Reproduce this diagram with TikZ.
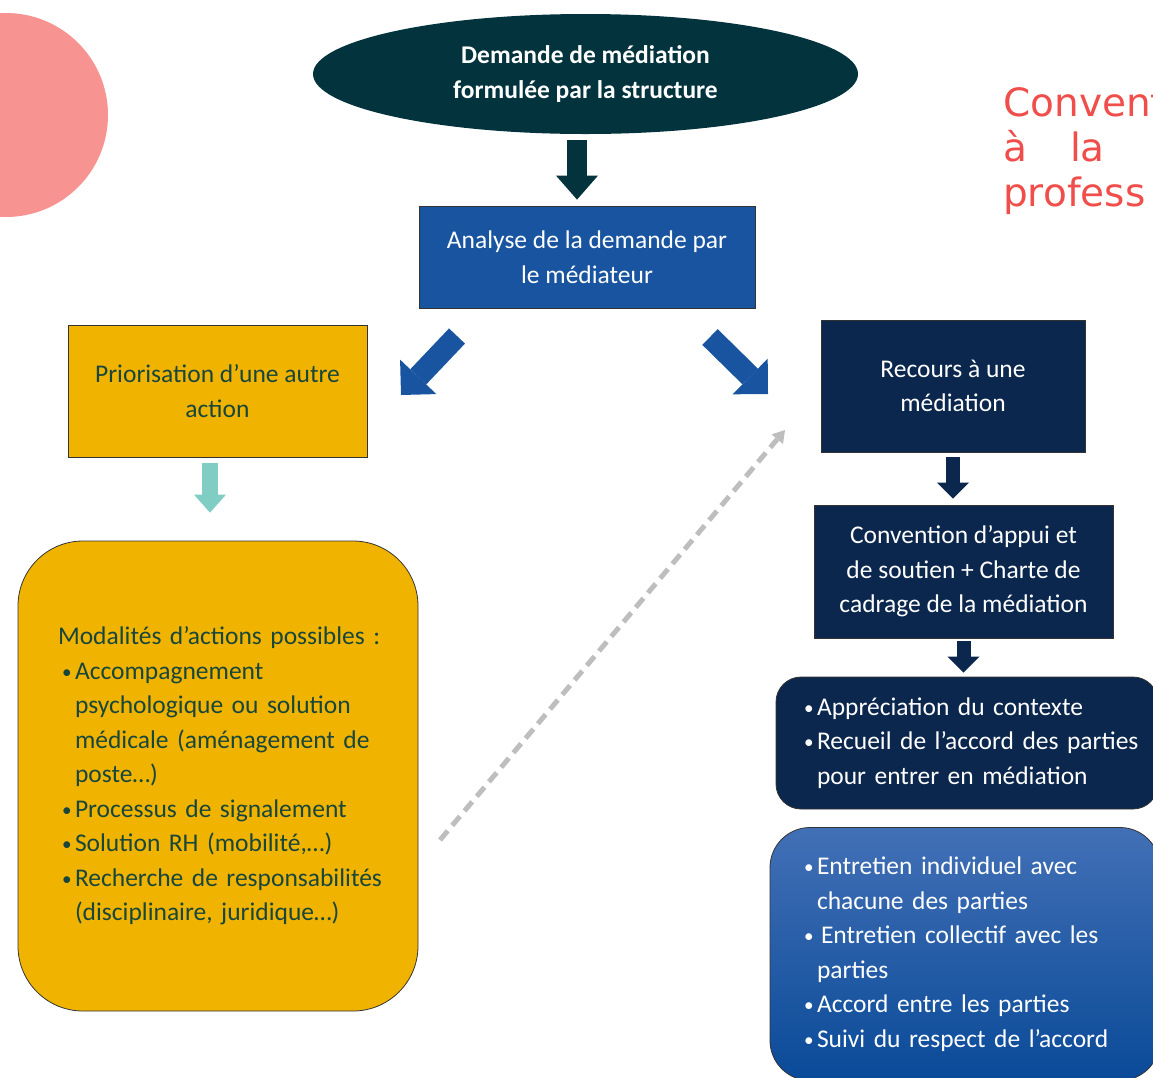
\documentclass[tikz,border=0pt]{standalone}
\usepackage{fontspec}
\setmainfont{Carlito}
\newfontfamily\headfont{DejaVu Sans}
\usetikzlibrary{shapes.geometric,arrows.meta}
\setlength{\parindent}{0pt}

\definecolor{demcol}{RGB}{3,51,61}
\definecolor{bluecol}{RGB}{24,84,160}
\definecolor{navycol}{RGB}{11,39,77}
\definecolor{yellowcol}{RGB}{240,180,0}
\definecolor{ytext}{RGB}{25,70,60}
\definecolor{tealcol}{RGB}{128,205,195}
\definecolor{pinkcol}{RGB}{247,148,146}
\definecolor{redcol}{RGB}{240,78,75}
\definecolor{graycol}{RGB}{190,190,190}
\definecolor{gradtop}{RGB}{66,112,182}
\definecolor{gradbot}{RGB}{10,74,152}

\begin{document}
\begin{tikzpicture}[x=1pt,y=-1pt,
    box/.style={draw=black!80, line width=0.8pt, text=white, align=center,
        font=\fontsize{25.5}{34.5}\selectfont},
    listbox/.style={box, align=left},
    bigarrow/.style={draw=demcol, line width=20pt, -{Triangle[width=42pt,length=24pt,line width=0pt]}},
    diagarrow/.style={draw=bluecol, line width=22pt, -{Triangle[width=50pt,length=25pt,line width=0pt]}},
    smallarrow/.style={draw=navycol, line width=14pt, -{Triangle[width=32pt,length=16pt,line width=0pt]}},
    tealarrow/.style={draw=tealcol, line width=16pt, -{Triangle[width=32pt,length=18pt,line width=0pt]}},
    dasharrow/.style={draw=graycol, line width=5pt, dash pattern=on 12pt off 7pt,
        -{Triangle[width=15pt,length=12pt,line width=0pt]}},
    headtxt/.style={text=redcol, font=\headfont\fontsize{39}{45}\selectfont, inner sep=0pt}
]
    \def\itm#1{\hspace*{#1}\makebox[13pt][l]{\raisebox{1pt}{\scalebox{0.75}{\textbullet}}}}
    \def\cont#1{\hspace*{#1}\hspace*{13pt}}

    \useasboundingbox (0,0) rectangle (1153,1077);
    \clip (0,0) rectangle (1153,1077);

    % pink disc on the left
    \fill[pinkcol] (6,115) circle (102pt);

    % top of the chart
    \node[ellipse, fill=demcol, text=white, align=center, minimum width=545pt, minimum height=120pt,
        font=\bfseries\fontsize{25.5}{34.5}\selectfont] (dem) at (585.5,74)
        {Demande de médiation\\formulée par la structure};
    \node[box, fill=bluecol, minimum width=336pt, minimum height=102pt] (analyse) at (587,257)
        {Analyse de la demande par\\le médiateur};

    % left branch
    \node[box, fill=yellowcol, text=ytext, minimum width=299pt, minimum height=132pt] (prio) at (217.5,391)
        {Priorisation d’une autre\\action};
    \node[listbox, fill=yellowcol, text=ytext, rounded corners=65pt, minimum width=400pt, minimum height=470pt,
        inner xsep=20pt, text width=360pt] (modal) at (218,776)
        {\hspace*{20pt}Modalités d’actions possibles :\\
         \itm{24pt}Accompagnement\\
         \cont{24pt}psychologique ou solution\\
         \cont{24pt}médicale (aménagement de\\
         \cont{24pt}poste…)\\
         \itm{24pt}Processus de signalement\\
         \itm{24pt}Solution RH (mobilité,…)\\
         \itm{24pt}Recherche de responsabilités\\
         \cont{24pt}(disciplinaire, juridique…)};

    % right branch
    \node[box, fill=navycol, minimum width=264pt, minimum height=132pt] (recours) at (953,386)
        {Recours à une\\médiation};
    \node[box, fill=navycol, minimum width=299pt, minimum height=133pt] (conv) at (963.5,571.5)
        {Convention d’appui et\\de soutien + Charte de\\cadrage de la médiation};
    \node[listbox, fill=navycol, rounded corners=25pt, minimum width=382pt, minimum height=132pt,
        inner xsep=12pt, text width=358pt] (apprec) at (967,743)
        {\itm{16pt}Appréciation du contexte\\
         \itm{16pt}Recueil de l’accord des parties\\
         \cont{16pt}pour entrer en médiation};
    \node[listbox, top color=gradtop, bottom color=gradbot, rounded corners=40pt, minimum width=390pt,
        minimum height=253pt, inner xsep=15pt, text width=360pt] (suivi) at (965,954)
        {\itm{19pt}Entretien individuel avec\\
         \cont{19pt}chacune des parties\\
         \itm{19pt}\hspace{4pt}Entretien collectif avec les\\
         \cont{19pt}parties\\
         \itm{19pt}Accord entre les parties\\
         \itm{19pt}Suivi du respect de l’accord};

    % red heading, cut by the edge
    \node[headtxt, anchor=base west] (head1) at (1003,116) {Convent};
    \node[headtxt, anchor=base west] (head2) at (1003,161) {à\hspace{43pt}la};
    \node[headtxt, anchor=base west] (head3) at (1003,206) {profess};

    % free ends of the loose arrows
    \coordinate (dl1) at (457,336);
    \coordinate (dl2) at (401,395);
    \coordinate (dr1) at (710,337);
    \coordinate (dr2) at (768,394);
    \coordinate (ds1) at (440,840);
    \coordinate (ds2) at (785,430);

    % arrows
    \draw[bigarrow, shorten <=6pt, shorten >=6pt] ([xshift=-8.5pt]dem.south) -- ([xshift=-10pt]analyse.north);
    \draw[diagarrow] (dl1) -- (dl2);
    \draw[diagarrow] (dr1) -- (dr2);
    \draw[tealarrow, shorten <=6pt, shorten >=28pt] ([xshift=-7.5pt]prio.south) -- ([xshift=-8pt]modal.north);
    \draw[dasharrow] (ds1) -- (ds2);
    \draw[smallarrow, shorten <=5pt, shorten >=6pt] (recours.south) -- (recours.south |- conv.north);
    \draw[smallarrow, shorten <=3pt, shorten >=4pt] (conv.south) -- (conv.south |- apprec.north);
\end{tikzpicture}
\end{document}
